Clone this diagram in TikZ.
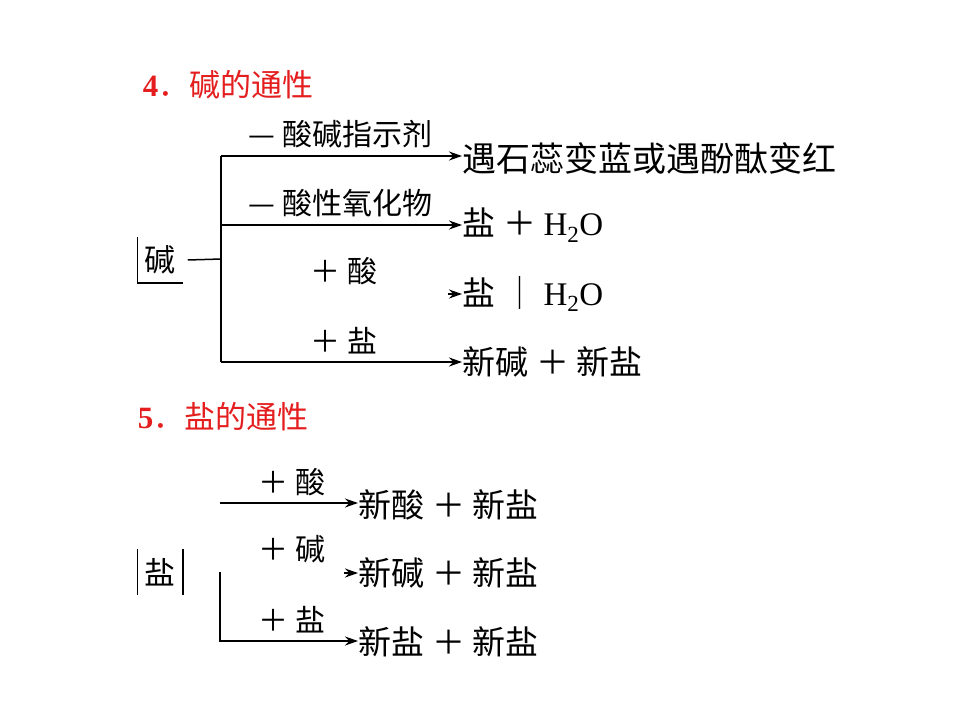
\documentclass[tikz,border=0pt]{standalone}
\usepackage{fontspec}
\usepackage{tikz}
\usetikzlibrary{arrows.meta}
\newfontfamily\cjk{Noto Sans CJK SC}
\newfontfamily\lat{Liberation Serif}
\definecolor{titlered}{RGB}{228,30,30}
\newcommand{\water}{{\lat H\textsubscript{2}O}}

\begin{document}
\begin{tikzpicture}[x=1pt, y=-1pt, line width=1.5pt,
    lbl/.style={font=\cjk\fontsize{30}{32}\selectfont, anchor=west, inner sep=0pt},
    res/.style={font=\cjk\fontsize{33}{35}\selectfont, anchor=west, inner sep=0pt},
    ttl/.style={font=\cjk\fontsize{31}{33}\selectfont, text=titlered, anchor=west, inner sep=0pt},
    cell/.style={font=\cjk\fontsize{31}{33}\selectfont, minimum width=44pt, minimum height=44pt, inner sep=0pt},
    arr/.style={-{Stealth[length=13pt, width=9pt]}}]
    \useasboundingbox (0, 0) rectangle (960, 720);

    % 4. bases
    \node [ttl] (title4) at (142, 85) {{\lat\bfseries 4}．碱的通性};

    \node [cell] (base) at (160, 260) {碱};
    \draw (base.north west) -- (base.south west) -- (base.south east);

    \coordinate (jb) at (221, 259);
    \coordinate (b1) at (221, 156);
    \coordinate (b2) at (221, 225);
    \coordinate (b4) at (221, 362);
    \draw ([xshift=5pt]base.east) -- (jb);
    \draw [line width=2.5pt] (b1) -- (b4);

    \node [lbl] (l1) at (248, 134) {— 酸碱指示剂};
    \node [lbl] (l2) at (248, 203) {— 酸性氧化物};
    \node [lbl] (l3) at (310, 271) {＋ 酸};
    \node [lbl] (l4) at (310, 341) {＋ 盐};

    \node [res, font=\cjk\fontsize{34}{36}\selectfont] (r1) at (462, 158) {遇石蕊变蓝或遇酚酞变红};
    \node [res] (r2) at (462, 225) {盐 ＋ \water};
    \node [res] (r3) at (462, 294) {盐 ｜ \water};
    \node [res] (r4) at (462, 362) {新碱 ＋ 新盐};

    \draw [arr] (b1) -- (b1 -| r1.west);
    \draw [arr] (b2) -- (b2 -| r2.west);
    \draw [arr] ([xshift=-14pt]r3.west) -- (r3.west);
    \draw [arr, line width=2.5pt] (b4) -- (b4 -| r4.west);

    % 5. salts
    \node [ttl] (title5) at (137, 417) {{\lat\bfseries 5}．盐的通性};

    \node [cell] (salt) at (160, 572) {盐};
    \draw (salt.north west) -- (salt.south west);
    \draw (salt.north east) -- (salt.south east);

    \node [lbl] (m1) at (258, 482) {＋ 酸};
    \node [lbl] (m2) at (258, 549) {＋ 碱};
    \node [lbl] (m3) at (258, 620) {＋ 盐};

    \node [res] (s1) at (358, 505) {新酸 ＋ 新盐};
    \node [res] (s2) at (358, 573) {新碱 ＋ 新盐};
    \node [res] (s3) at (358, 642) {新盐 ＋ 新盐};

    \coordinate (c1) at (220, 503);
    \coordinate (c3) at (220, 572);
    \coordinate (c4) at (220, 641);
    \draw [arr] (c1) -- (c1 -| s1.west);
    \draw [arr] ([xshift=-14pt]s2.west) -- (s2.west);
    \draw [arr] (c3) -- (c4) -- (c4 -| s3.west);
\end{tikzpicture}
\end{document}
